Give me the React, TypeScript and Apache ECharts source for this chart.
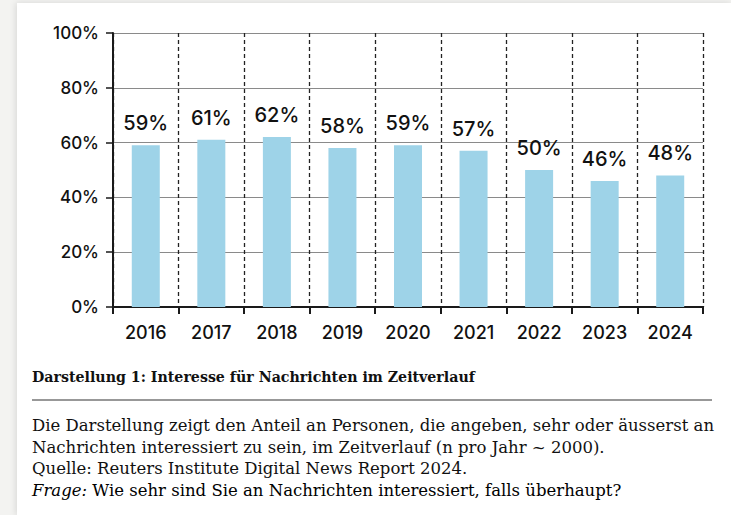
import React, { useEffect, useRef } from "react";
import * as echarts from "echarts";

const years = ["2016", "2017", "2018", "2019", "2020", "2021", "2022", "2023", "2024"];
const interest = [59, 61, 62, 58, 59, 57, 50, 46, 48];
const yTicks = [0, 20, 40, 60, 80, 100];
const captionTitle = "Darstellung 1: Interesse für Nachrichten im Zeitverlauf";
const captionLines = [
  "Die Darstellung zeigt den Anteil an Personen, die angeben, sehr oder äusserst an",
  "Nachrichten interessiert zu sein, im Zeitverlauf (n pro Jahr ~ 2000).",
  "Quelle: Reuters Institute Digital News Report 2024.",
];
const questionLabel = "Frage:";
const questionText = " Wie sehr sind Sie an Nachrichten interessiert, falls überhaupt?";

const SANS = "Inter";
const SERIF = "DejaVu Serif";

export default function App() {
  const ref = useRef<HTMLDivElement>(null);
  useEffect(() => {
    if (!ref.current) return;
    const chart = echarts.init(ref.current, null, { renderer: "svg" });
    const bodyY = [425, 447, 468];
    chart.setOption({
      animation: false,
      backgroundColor: "#f3f3f1",
      graphic: [
        {
          type: "rect",
          z: -10,
          shape: { x: 17, y: 3, width: 714, height: 512 },
          style: { fill: "#ffffff", shadowBlur: 6, shadowColor: "rgba(0,0,0,0.12)", shadowOffsetX: -1 },
        },
        {
          type: "text",
          x: 32,
          y: 377,
          style: {
            text: captionTitle,
            fontFamily: SERIF,
            fontWeight: "bold",
            fontSize: 14.2,
            fill: "#111",
            verticalAlign: "middle",
          },
        },
        {
          type: "line",
          shape: { x1: 32, y1: 400, x2: 712, y2: 400 },
          style: { stroke: "#333", lineWidth: 1.2 },
        },
        ...captionLines.map((t, i) => ({
          type: "text",
          x: 32,
          y: bodyY[i],
          style: { text: t, fontFamily: SERIF, fontSize: 16.5, fill: "#111", verticalAlign: "middle" },
        })),
        {
          type: "text",
          x: 32,
          y: 490,
          style: {
            text: `{i|${questionLabel}}{n|${questionText}}`,
            verticalAlign: "middle",
            rich: {
              i: { fontFamily: SERIF, fontSize: 16.5, fontStyle: "italic", color: "#111" },
              n: { fontFamily: SERIF, fontSize: 16.5, color: "#111" },
            },
          },
        },
      ],
      grid: { left: 113, right: 28, top: 33, bottom: 208, containLabel: false },
      xAxis: {
        type: "category",
        data: years,
        boundaryGap: true,
        axisLine: { lineStyle: { color: "#1a1a1a", width: 2 } },
        axisTick: { show: true, length: 7, lineStyle: { color: "#1a1a1a", width: 2 } },
        axisLabel: { color: "#111", fontFamily: SANS, fontWeight: 500, fontSize: 18, margin: 16 },
        splitLine: { show: true, lineStyle: { color: "#222", type: [4, 3], width: 1.3 } },
      },
      yAxis: {
        type: "value",
        min: 0,
        max: 100,
        interval: 20,
        axisLine: { show: true, lineStyle: { color: "#1a1a1a", width: 2 } },
        axisTick: { show: true, length: 7, lineStyle: { color: "#1a1a1a", width: 1.5 } },
        axisLabel: {
          color: "#111",
          fontFamily: SANS,
          fontWeight: 500,
          fontSize: 17,
          margin: 14,
          formatter: (v: number) => (yTicks.includes(v) ? `${v}%` : ""),
        },
        splitLine: { show: true, lineStyle: { color: "#8a8a8a", width: 1 } },
      },
      series: [
        {
          type: "bar",
          data: interest,
          barWidth: 28,
          itemStyle: { color: "#9ed3e8" },
          label: {
            show: true,
            position: "top",
            distance: 12,
            formatter: "{c}%",
            color: "#111",
            fontFamily: SANS,
            fontWeight: 500,
            fontSize: 20,
          },
        },
      ],
    });
    return () => chart.dispose();
  }, []);
  return (
    <div
      ref={ref}
      style={{ position: "fixed", left: 0, top: 0, width: 731, height: 515 }}
    />
  );
}
